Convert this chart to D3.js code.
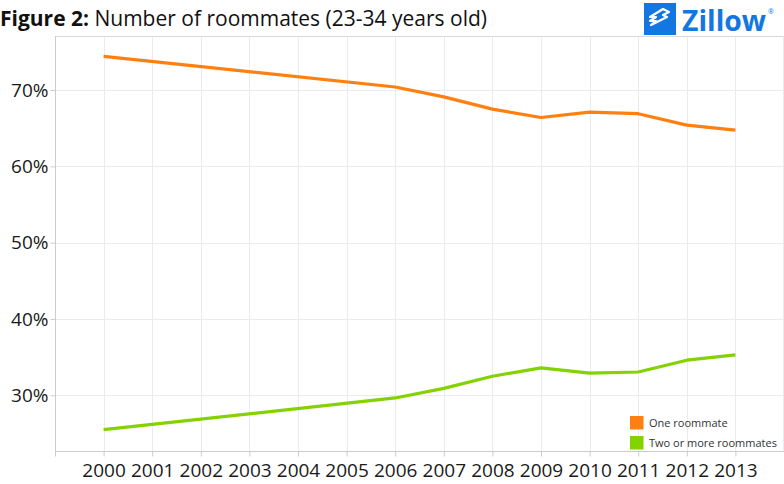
<!DOCTYPE html>
<html><head><meta charset="utf-8">
<script src="https://cdn.jsdelivr.net/npm/d3@7"></script>
<style>
html,body{margin:0;padding:0;background:#fff;}
svg{display:block;font-family:"Open Sans",sans-serif;}
</style></head>
<body>
<svg id="chart" width="784" height="484"></svg>
<script>
const years = [2000, 2006, 2007, 2008, 2009, 2010, 2011, 2012, 2013];
const oneRoommate = [74.4, 70.4, 69.1, 67.5, 66.4, 67.1, 66.9, 65.4, 64.75];
const twoOrMore = [25.5, 29.65, 30.9, 32.5, 33.6, 32.9, 33.05, 34.6, 35.3];
const tickYears = [2000,2001,2002,2003,2004,2005,2006,2007,2008,2009,2010,2011,2012,2013];
const yTicks = [30, 40, 50, 60, 70];
const seriesNames = ["One roommate", "Two or more roommates"];
const colors = ["#ff8011", "#84d200"];

const svg = d3.select("#chart");
const L = 55, R = 784, T = 36, B = 451;
const x = d3.scaleLinear().domain([1999, 2014]).range([L, R]);
const y = d3.scaleLinear().domain([22.7, 77.08]).range([B, T]);

// grid
const g = svg.append("g");
g.selectAll(".vg").data(tickYears).enter().append("line")
  .attr("x1", d => Math.round(x(d)) + 0.5).attr("x2", d => Math.round(x(d)) + 0.5)
  .attr("y1", T).attr("y2", B).attr("stroke", "#ebebeb").attr("stroke-width", 1);
g.selectAll(".hg").data(yTicks).enter().append("line")
  .attr("x1", L).attr("x2", R)
  .attr("y1", d => Math.round(y(d)) + 0.5).attr("y2", d => Math.round(y(d)) + 0.5)
  .attr("stroke", "#ebebeb").attr("stroke-width", 1);
g.append("line").attr("x1", L).attr("x2", R).attr("y1", T + 0.5).attr("y2", T + 0.5).attr("stroke", "#d9d9d9");
g.append("line").attr("x1", R - 0.5).attr("x2", R - 0.5).attr("y1", T).attr("y2", B).attr("stroke", "#ebebeb");

// y axis
const yAxis = svg.append("g").attr("transform", `translate(${L + 0.5},0)`)
  .call(d3.axisLeft(y).tickValues(yTicks).tickFormat(d => d + "%").tickSize(5).tickPadding(2));
yAxis.select(".domain").attr("stroke", "#cccccc").attr("d", `M0,${T}V${B}`);
yAxis.selectAll(".tick line").attr("stroke", "#cccccc");
yAxis.selectAll("text").attr("font-size", 19).attr("fill", "#1a1a1a").attr("font-family", "Open Sans");

// x axis
const xAxis = svg.append("g").attr("transform", `translate(0,${B + 0.5})`)
  .call(d3.axisBottom(x).tickValues([1999].concat(tickYears)).tickFormat(d => d === 1999 ? "" : d).tickSize(5).tickPadding(7));
xAxis.select(".domain").attr("stroke", "#cccccc").attr("d", `M${L},0H${R}`);
xAxis.selectAll(".tick line").attr("stroke", "#cccccc");
xAxis.selectAll("text").attr("font-size", 19).attr("fill", "#1a1a1a").attr("font-family", "Open Sans");

// lines
const line = d3.line().x((d, i) => x(years[i])).y(d => y(d));
[oneRoommate, twoOrMore].forEach((s, k) => {
  svg.append("path").datum(s).attr("d", line).attr("fill", "none")
    .attr("stroke", colors[k]).attr("stroke-width", 3.2).attr("stroke-linejoin", "round");
});

// legend
const lg = svg.append("g").attr("transform", "translate(630,416)");
seriesNames.forEach((n, k) => {
  lg.append("rect").attr("x", 0).attr("y", k * 20).attr("width", 13.5).attr("height", 13.5).attr("fill", colors[k]);
  lg.append("text").attr("x", 19).attr("y", k * 20 + 11).attr("font-size", 11).attr("fill", "#333").text(n);
});

// title
const t = svg.append("text").attr("x", 0).attr("y", 26).attr("font-size", 21).attr("fill", "#111");
t.append("tspan").attr("font-weight", "bold").text("Figure 2:");
t.append("tspan").text(" Number of roommates (23-34 years old)");

// logo
const logo = svg.append("g");
logo.append("rect").attr("x", 644).attr("y", 3).attr("width", 32).attr("height", 32).attr("fill", "#1277e1");
logo.append("path").attr("d", "M651,25 L667,17 L663,15 L669,12 L663,9 L650,17 L656,17 L650,21 L656,21 Z")
  .attr("fill", "none").attr("stroke", "#fff").attr("stroke-width", 2.2).attr("stroke-linejoin", "round");
logo.append("text").attr("x", 682).attr("y", 31).attr("font-size", 29).attr("font-weight", "bold")
  .attr("fill", "#1277e1").attr("textLength", 84).attr("lengthAdjust", "spacingAndGlyphs").text("Zillow");
logo.append("text").attr("x", 768).attr("y", 14).attr("font-size", 7).attr("fill", "#1277e1").text("®");
</script>
</body></html>
